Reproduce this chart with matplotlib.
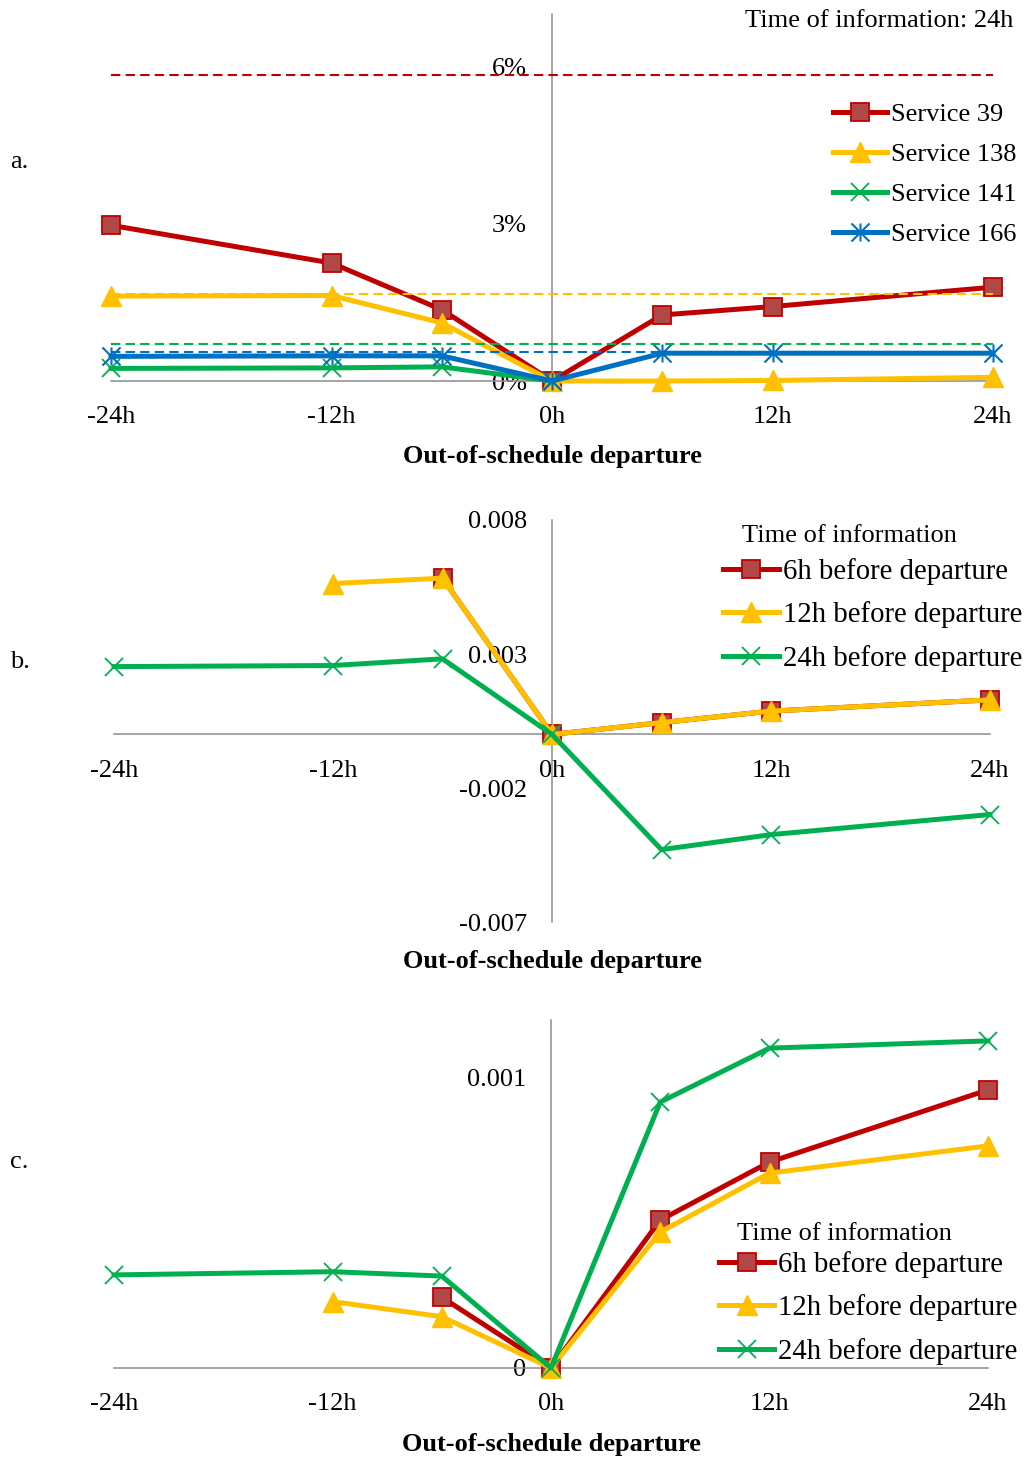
import matplotlib
matplotlib.use("Agg")
import matplotlib.pyplot as plt
import numpy as np
from matplotlib.path import Path

plt.rcParams['font.family'] = ['Liberation Serif', 'DejaVu Serif']
plt.rcParams['font.size'] = 19

# ---------------- data ----------------
hours = [-24, -12, -6, 0, 6, 12, 24]
x_ticks = [-24, -12, 0, 12, 24]
x_tick_labels = ["-24h", "-12h", "0h", "12h", "24h"]
nan = np.nan

# (a) share of out-of-schedule departures, percent
a_labels = ["Service 39", "Service 138", "Service 141", "Service 166"]
a_svc39 = [2.97, 2.25, 1.36, 0.0, 1.26, 1.42, 1.79]
a_svc138 = [1.62, 1.63, 1.11, 0.0, 0.0, 0.01, 0.07]
a_svc141 = [0.24, 0.25, 0.27, 0.0, nan, nan, nan]
a_svc166 = [0.47, 0.48, 0.48, 0.0, 0.53, 0.53, 0.53]
a_ref_levels = [5.83, 1.65, 0.71, 0.55]
a_yticks = [0, 3, 6]
a_ytick_labels = ["0%", "3%", "6%"]

# (b), (c) by time of information
info_labels = ["6h before departure", "12h before departure", "24h before departure"]
b_6h = [nan, nan, 0.00583, 0.0, 0.00044, 0.00087, 0.00129]
b_12h = [nan, 0.00563, 0.00583, 0.0, 0.00044, 0.00087, 0.00129]
b_24h = [0.00253, 0.00257, 0.00282, 0.0, -0.00430, -0.00374, -0.00299]
b_yticks = [-0.007, -0.002, 0.003, 0.008]
b_ytick_labels = ["-0.007", "-0.002", "0.003", "0.008"]

c_6h = [nan, nan, 0.000244, 0.0, 0.000510, 0.000710, 0.000959]
c_12h = [nan, 0.000229, 0.000177, 0.0, 0.000469, 0.000672, 0.000766]
c_24h = [0.000321, 0.000332, 0.000317, 0.0, 0.000917, 0.001103, 0.001128]
c_yticks = [0, 0.001]
c_ytick_labels = ["0", "0.001"]

# ---------------- styles ----------------
RED, RED_FILL = "#C00000", "#B04848"
YELLOW, GREEN, BLUE = "#FFC000", "#00B050", "#0070C0"
AXIS = "#8C8C8C"
LW = 3.6

asterisk = Path([(-0.5, -0.5), (0.5, 0.5), (-0.5, 0.5), (0.5, -0.5), (0, -0.5), (0, 0.5)],
                [Path.MOVETO, Path.LINETO, Path.MOVETO, Path.LINETO, Path.MOVETO, Path.LINETO])

st_red = dict(color=RED, lw=LW, marker="s", ms=12.5, mfc=RED_FILL, mec=RED, mew=1.3)
st_yel = dict(color=YELLOW, lw=LW, marker="^", ms=14, mfc=YELLOW, mec=YELLOW, mew=1)
st_grn = dict(color=GREEN, lw=LW, marker="x", ms=12.5, mec=GREEN, mew=1.3)
st_blu = dict(color=BLUE, lw=LW, marker=asterisk, ms=13, mfc="none", mec=BLUE, mew=1.5)

W, H = 1027, 1458
fig = plt.figure(figsize=(W / 100, H / 100), dpi=100)


def px_axes(x0, y0, x1, y1):
    return fig.add_axes([x0 / W, 1 - y1 / H, (x1 - x0) / W, (y1 - y0) / H])


def style(ax, ylim, yticks, ylabels, label_y):
    ax.set_xlim(-24, 24)
    ax.set_ylim(*ylim)
    ax.patch.set_alpha(0)
    for s in ("top", "right"):
        ax.spines[s].set_visible(False)
    for s in ("left", "bottom"):
        ax.spines[s].set_position(("data", 0))
        ax.spines[s].set_color(AXIS)
        ax.spines[s].set_linewidth(1.1)
    ax.set_xticks(x_ticks, x_tick_labels)
    ax.set_yticks(yticks, ylabels)
    ax.tick_params(length=0)
    ax.tick_params(axis="x", pad=18.3)
    ax.tick_params(axis="y", pad=18)
    ax.set_xlabel("Out-of-schedule departure", fontweight="bold")
    ax.xaxis.label.set_va("center")
    ax.xaxis.set_label_coords(0.5, label_y)


def legend(ax, handles, labels, x, y, size, spacing, handle_px):
    em = size / 0.72
    return ax.legend(handles, labels, loc="upper left",
                     bbox_to_anchor=(x / W, 1 - y / H), bbox_transform=fig.transFigure,
                     frameon=False, borderpad=0, borderaxespad=0,
                     handlelength=handle_px / em, handletextpad=4 / em,
                     labelspacing=spacing, numpoints=1, fontsize=size)


# ---------------- panel a ----------------
ax = px_axes(111, 14, 993, 381)
style(ax, (0, 7), a_yticks, a_ytick_labels, (381 - 456) / 367)
h = []
for vals, st in zip([a_svc39, a_svc138, a_svc141, a_svc166], [st_red, st_yel, st_grn, st_blu]):
    h += ax.plot(hours, vals, clip_on=False, zorder=3, **st)
for lvl, col in zip(a_ref_levels, [RED, YELLOW, GREEN, BLUE]):
    ax.hlines(lvl, -24, 24, colors=col, linestyles=(0, (4.5, 2.5)), lw=1.5, zorder=4)
legend(ax, h, a_labels, 833, 103, 19, 0.62, 54)
fig.text(1013 / W, 1 - 21 / H, "Time of information: 24h", ha="right", va="center")
fig.text(10 / W, 1 - 162 / H, "a.", va="center")

# ---------------- panel b ----------------
ax = px_axes(114, 520, 990, 922)
style(ax, (-0.007, 0.008), b_yticks, b_ytick_labels, (922 - 961) / 402)
h = []
for vals, st in zip([b_6h, b_12h, b_24h], [st_red, st_yel, st_grn]):
    h += ax.plot(hours, vals, clip_on=False, zorder=3, **st)
legend(ax, h, info_labels, 723, 558, 20.7, 0.57, 56)
fig.text(742 / W, 1 - 536 / H, "Time of information", va="center")
fig.text(10 / W, 1 - 662 / H, "b.", va="center")

# ---------------- panel c ----------------
ax = px_axes(114, 1020, 988, 1368)
style(ax, (0, 0.0012), c_yticks, c_ytick_labels, (1368 - 1444) / 348)
h = []
for vals, st in zip([c_6h, c_12h, c_24h], [st_red, st_yel, st_grn]):
    h += ax.plot(hours, vals, clip_on=False, zorder=3, **st)
legend(ax, h, info_labels, 719, 1251, 20.7, 0.57, 55)
fig.text(737 / W, 1 - 1234 / H, "Time of information", va="center")
fig.text(10 / W, 1 - 1162 / H, "c.", va="center")

fig.savefig("out.png", dpi=100)
